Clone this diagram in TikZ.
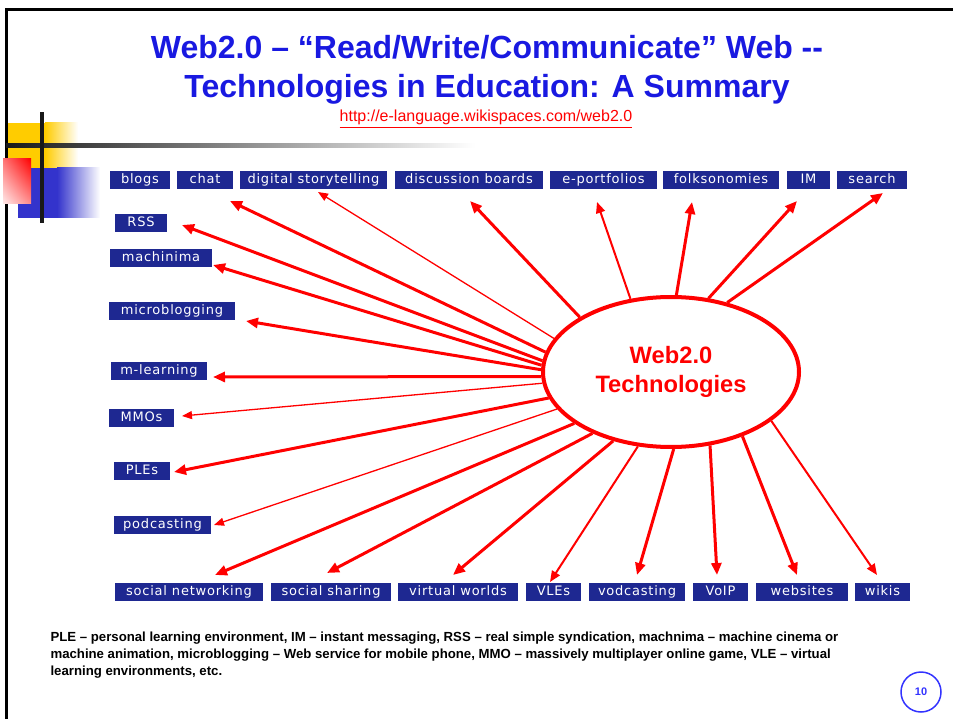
\documentclass[tikz,border=0pt]{standalone}
\usepackage{fontspec}
\setmainfont{Liberation Sans}
\newfontfamily\boxfont[LetterSpace=6]{DejaVu Sans}
\usetikzlibrary{arrows.meta,shapes.geometric,shadings}
\definecolor{titleblue}{RGB}{25,25,225}
\definecolor{boxblue}{RGB}{30,40,145}
\definecolor{pnblue}{RGB}{51,51,255}
\definecolor{decogold}{RGB}{255,204,0}
\definecolor{decoblue}{RGB}{51,51,204}
\definecolor{webred}{RGB}{255,0,0}
\begin{document}
\begin{tikzpicture}[x=1pt,y=-1pt,
  tbox/.style={fill=boxblue, text=white, inner sep=0pt, minimum height=18pt, text height=9.5pt, text depth=3pt, font=\boxfont\fontsize{13}{15}\selectfont},
  arrthick/.style={draw=webred, line width=3pt, -{Triangle[length=12pt,width=10pt]}},
  arrmed/.style={draw=webred, line width=2pt, -{Triangle[length=11pt,width=9pt]}},
  arrthin/.style={draw=webred, line width=1.3pt, -{Triangle[length=10pt,width=8pt]}},
  fnote/.style={anchor=base west, font=\bfseries\fontsize{13.2}{15}\selectfont},
  ttl/.style={anchor=base, text=titleblue, font=\bfseries\fontsize{32}{38}\selectfont}
]
\useasboundingbox (0,0) rectangle (953,719);
% frame
\draw[line width=3pt] (6,720) -- (6,10) -- (954,10);
% decoration
\fill[decogold] (8,123) rectangle (45,168);
\shade[left color=decogold, right color=white] (45,123) rectangle (78,168);
\fill[decoblue] (18,168) rectangle (57,218);
\shade[left color=decoblue, right color=white] (57,168) rectangle (100,218);
\shade[upper right=webred, upper left=red!55, lower right=red!45, lower left=red!8] (3,159) rectangle (31,204);
\shade[left color=black!90, middle color=black!55, right color=white] (6,143.5) rectangle (475,147.5);
\fill[black!90] (40,112) rectangle (44,223);
% titles
\node[ttl] (t1) at (487,59) {Web2.0 – “Read/Write/Communicate” Web -{}-};
\node[ttl] (t2) at (487,98) {Technologies in Education: A Summary};
\node[anchor=base, text=webred, font=\fontsize{16}{18}\selectfont] (url) at (486,122) {\underline{http://e-language.wikispaces.com/web2.0}};
% ellipse
\node[ellipse, draw=webred, line width=4pt, minimum width=256pt, minimum height=150pt, inner sep=0pt, align=center, text=webred, font=\bfseries\fontsize{23.7}{29}\selectfont] (E) at (671,372) {Web2.0\\Technologies};
% top row
\node[tbox, minimum width=60pt] (blogs) at (140,180) {blogs};
\node[tbox, minimum width=56pt] (chat) at (205,180) {chat};
\node[tbox, minimum width=147pt] (digital) at (313.5,180) {digital storytelling};
\node[tbox, minimum width=148pt] (discussion) at (469,180) {discussion boards};
\node[tbox, minimum width=107pt] (eport) at (603.5,180) {e-portfolios};
\node[tbox, minimum width=116pt] (folks) at (721,180) {folksonomies};
\node[tbox, minimum width=43pt] (im) at (808.5,180) {IM};
\node[tbox, minimum width=70pt] (search) at (872,180) {search};
% left column
\node[tbox, minimum width=52pt] (rss) at (141,223) {RSS};
\node[tbox, minimum width=102pt] (machinima) at (161,258) {machinima};
\node[tbox, minimum width=126pt] (micro) at (172,311) {microblogging};
\node[tbox, minimum width=96pt] (mlearn) at (159,371) {m-learning};
\node[tbox, minimum width=65pt] (mmos) at (141.5,418) {MMOs};
\node[tbox, minimum width=56pt] (ples) at (142,471) {PLEs};
\node[tbox, minimum width=97pt] (podcast) at (162.5,525) {podcasting};
% bottom row
\node[tbox, minimum width=148pt] (socnet) at (189,592) {social networking};
\node[tbox, minimum width=120pt] (socshare) at (331,592) {social sharing};
\node[tbox, minimum width=120pt] (virtual) at (458,592) {virtual worlds};
\node[tbox, minimum width=55pt] (vles) at (553.5,592) {VLEs};
\node[tbox, minimum width=96pt] (vodcast) at (637,592) {vodcasting};
\node[tbox, minimum width=55pt] (voip) at (720.5,592) {VoIP};
\node[tbox, minimum width=92pt] (websites) at (802,592) {websites};
\node[tbox, minimum width=55pt] (wikis) at (882.5,592) {wikis};
% arrow tips
\coordinate (tchat) at (230,201);
\coordinate (tdigital) at (318,192);
\coordinate (tdiscussion) at (470,201);
\coordinate (teport) at (597,202);
\coordinate (tfolks) at (692,202);
\coordinate (tim) at (797,201);
\coordinate (tsearch) at (883,193);
\coordinate (trss) at (182,225);
\coordinate (tmachinima) at (213,265);
\coordinate (tmicro) at (246,321);
\coordinate (tmlearn) at (213,377);
\coordinate (tmmos) at (182,416);
\coordinate (tples) at (174,472);
\coordinate (tpodcast) at (214,525);
\coordinate (tsocnet) at (215,575);
\coordinate (tsocshare) at (327,573);
\coordinate (tvirtual) at (453,575);
\coordinate (tvles) at (550,582);
\coordinate (tvodcast) at (637,575);
\coordinate (tvoip) at (717,575);
\coordinate (twebsites) at (797,575);
\coordinate (twikis) at (877,575);
% arrows
\draw[arrthick] (E.171) -- (tchat);
\draw[arrthin] (E.164) -- (tdigital);
\draw[arrthick] (E.149) -- (tdiscussion);
\draw[arrmed] (E.119) -- (teport);
\draw[arrthick] (E.86) -- (tfolks);
\draw[arrthick] (E.63) -- (tim);
\draw[arrthick] (E.51) -- (tsearch);
\draw[arrthick] (E.175) -- (trss);
\draw[arrthick] (E.177) -- (tmachinima);
\draw[arrthick] (E.179) -- (tmicro);
\draw[arrthick] (E.182) -- (tmlearn);
\draw[arrthin] (E.185) -- (tmmos);
\draw[arrthick] (E.192) -- (tples);
\draw[arrthin] (E.198) -- (tpodcast);
\draw[arrthick] (E.208) -- (tsocnet);
\draw[arrthick] (E.218) -- (tsocshare);
\draw[arrthick] (E.230) -- (tvirtual);
\draw[arrmed] (E.246) -- (tvles);
\draw[arrthick] (E.272) -- (tvodcast);
\draw[arrthick] (E.298) -- (tvoip);
\draw[arrthick] (E.318) -- (twebsites);
\draw[arrmed] (E.334) -- (twikis);
% footnote
\node[fnote] (fn1) at (47,641) {PLE – personal learning environment, IM – instant messaging, RSS – real simple syndication, machnima – machine cinema or};
\node[fnote] (fn2) at (47,658) {machine animation, microblogging – Web service for mobile phone, MMO – massively multiplayer online game, VLE – virtual};
\node[fnote] (fn3) at (47,675) {learning environments, etc.};
% page number
\node[circle, draw=pnblue, line width=1.5pt, minimum size=40pt, inner sep=0pt, text=pnblue, font=\bfseries\fontsize{11}{13}\selectfont] (pg) at (921,692) {10};
\end{tikzpicture}
\end{document}
